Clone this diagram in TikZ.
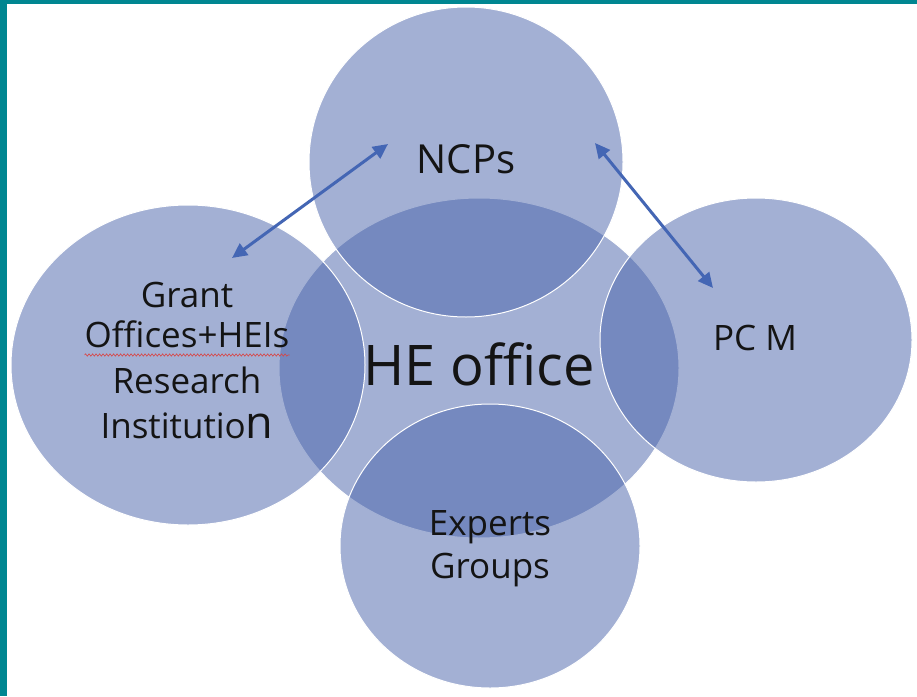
\documentclass[tikz,border=0pt]{standalone}
\usepackage{fontspec}
\setmainfont{Open Sans}
\usetikzlibrary{shapes.geometric,arrows.meta,decorations.pathmorphing}
\definecolor{framecol}{RGB}{0,134,145}
\definecolor{bubblecol}{RGB}{72,99,171}
\definecolor{arrowcol}{RGB}{68,102,180}
\definecolor{squigcol}{RGB}{215,70,70}
\begin{document}
\begin{tikzpicture}[x=1pt,y=-1pt,
  bubble/.style={ellipse, fill=bubblecol, fill opacity=0.5, draw=white, line width=1pt, inner sep=0pt, outer sep=0pt},
  lbl/.style={anchor=base, text=black!92, inner sep=0pt, font=\fontsize{35}{40}\selectfont},
  link/.style={draw=arrowcol, line width=3pt, {Triangle[length=15pt,width=14pt]}-{Triangle[length=15pt,width=14pt]}},
  squiggle/.style={draw=squigcol, line width=0.6pt, decorate, decoration={snake, amplitude=1.2pt, segment length=3.5pt}}]
\useasboundingbox (0,0) rectangle (917,696);
\fill[framecol] (0,0) rectangle (917,696);
\fill[white] (7,4) rectangle (917,696);
% bubbles
\node[bubble, minimum width=400pt, minimum height=340pt] (he) at (479,368) {};
\node[bubble, minimum width=354pt, minimum height=320pt] (grant) at (188,365) {};
\node[bubble, minimum width=314pt, minimum height=310pt] (ncp) at (466,162) {};
\node[bubble, minimum width=312pt, minimum height=284pt] (pcm) at (756,340) {};
\node[bubble, minimum width=300pt, minimum height=284pt] (experts) at (490,546) {};
% labels
\node[lbl, font=\fontsize{40}{46}\selectfont] (ncpt) at (466,173) {NCPs};
\node[lbl, font=\fontsize{56}{64}\selectfont] (het) at (479,385) {HE office};
\node[lbl, font=\fontsize{35}{42}\selectfont] (pcmt) at (755,350) {PC M};
\node[lbl] (g1) at (187,307) {Grant};
\node[lbl] (g2) at (187,347) {Offices+HEIs};
\node[lbl] (g3) at (187,393) {Research};
\node[lbl] (g4) at (187,438) {Institutio{\fontsize{45}{50}\selectfont n}};
\node[lbl] (e1) at (490,535) {Experts};
\node[lbl] (e2) at (490,578) {Groups};
\draw[squiggle] ([yshift=-8pt]g2.base west) -- ([yshift=-8pt]g2.base east);
% arrows
\coordinate (a1s) at (388,144);
\coordinate (a1e) at (232,258);
\coordinate (a2s) at (595,143);
\coordinate (a2e) at (713,288);
\draw[link] (a1s) -- (a1e);
\draw[link] (a2s) -- (a2e);
\end{tikzpicture}
\end{document}
